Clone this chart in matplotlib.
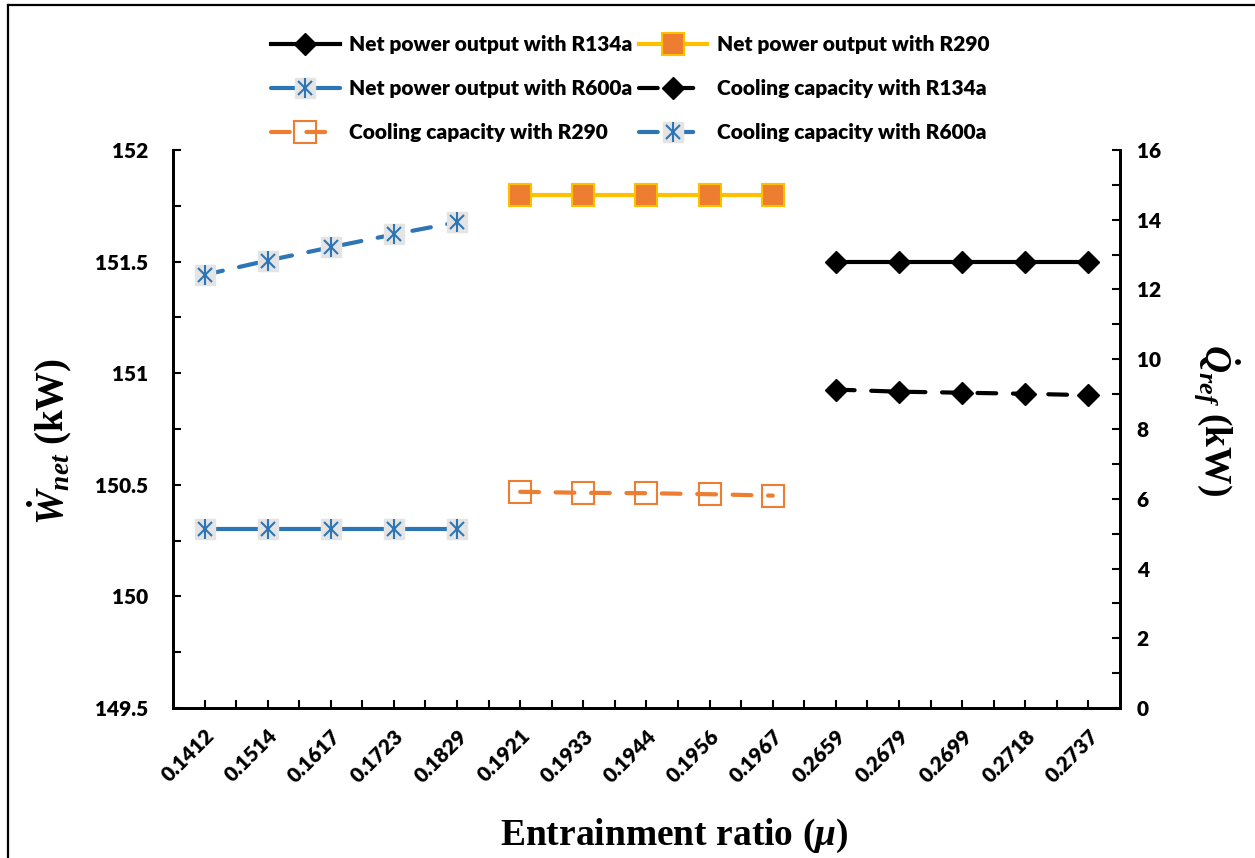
import numpy as np
import matplotlib
matplotlib.use("Agg")
import matplotlib.pyplot as plt
from matplotlib.lines import Line2D
from matplotlib.ticker import MultipleLocator
from matplotlib.legend_handler import HandlerTuple

# x categories (entrainment ratio)
mu = ["0.1412", "0.1514", "0.1617", "0.1723", "0.1829",
      "0.1921", "0.1933", "0.1944", "0.1956", "0.1967",
      "0.2659", "0.2679", "0.2699", "0.2718", "0.2737"]

# net power output (kW), left axis
w_r600a = [150.3, 150.3, 150.3, 150.3, 150.3]
w_r290 = [151.8, 151.8, 151.8, 151.8, 151.8]
w_r134a = [151.5, 151.5, 151.5, 151.5, 151.5]

# cooling capacity (kW), right axis
q_r600a = [12.42, 12.83, 13.21, 13.58, 13.93]
q_r290 = [6.20, 6.17, 6.16, 6.13, 6.09]
q_r134a = [9.13, 9.07, 9.04, 9.01, 8.97]

w_ticks = ["149.5", "150", "150.5", "151", "151.5", "152"]
q_ticks = ["0", "2", "4", "6", "8", "10", "12", "14", "16"]

blue = "#2E75B6"
orange = "#ED7D31"
yellow = "#FFC000"
grey = "#E4E4E4"

plt.rcParams["mathtext.fontset"] = "custom"
plt.rcParams["mathtext.it"] = "Liberation Serif:bold:italic"
plt.rcParams["mathtext.rm"] = "Liberation Serif:bold"
plt.rcParams["mathtext.bf"] = "Liberation Serif:bold"

tickfont = {"family": "Lato", "weight": "heavy", "size": 15}

fig = plt.figure(figsize=(12.55, 8.58), dpi=100)
ax = fig.add_axes([0.1378, 0.1748, 0.7546, 0.6504])
ax2 = ax.twinx()

x = np.arange(len(mu))
i600 = x[0:5]
i290 = x[5:10]
i134 = x[10:15]

dash = (0, (4.5, 4.0))
lw = 3.0

# R600a net power
l1, = ax.plot(i600, w_r600a, color=blue, lw=lw, solid_capstyle="round", zorder=2)
s1, = ax.plot(i600, w_r600a, ls="none", marker="s", ms=14, mfc=grey, mec=grey, zorder=3)
a1, = ax.plot(i600, w_r600a, ls="none", marker="x", ms=10.5, mec=blue, mew=1.5, zorder=4)
b1, = ax.plot(i600, w_r600a, ls="none", marker="|", ms=14.5, mec=blue, mew=1.5, zorder=4)

# R290 net power
l2, = ax.plot(i290, w_r290, color=yellow, lw=lw, marker="s", ms=15.5, mfc=orange,
              mec=yellow, mew=1.5, zorder=3)

# R134a net power
l3, = ax.plot(i134, w_r134a, color="black", lw=lw, marker="D", ms=11.5, mfc="black",
              mec="black", zorder=3)

# cooling capacities on right axis
c1, = ax2.plot(i600, q_r600a, color=blue, lw=lw, ls=dash, dash_capstyle="round", zorder=2)
cs1, = ax2.plot(i600, q_r600a, ls="none", marker="s", ms=14, mfc=grey, mec=grey, zorder=3)
ca1, = ax2.plot(i600, q_r600a, ls="none", marker="x", ms=10.5, mec=blue, mew=1.5, zorder=4)
cb1, = ax2.plot(i600, q_r600a, ls="none", marker="|", ms=14.5, mec=blue, mew=1.5, zorder=4)

c2, = ax2.plot(i290, q_r290, color=orange, lw=lw, ls=dash, dash_capstyle="round",
               marker="s", ms=16, mfc="none", mec=orange, mew=1.5, zorder=3)

c3, = ax2.plot(i134, q_r134a, color="black", lw=lw, ls=dash, dash_capstyle="round",
               marker="D", ms=11.5, mfc="black", mec="black", zorder=3)

# axes
ax.set_xlim(-0.5, len(mu) - 0.5)
ax.set_ylim(149.5, 152)
ax2.set_ylim(0, 16)
ax.set_yticks([float(t) for t in w_ticks])
ax.set_yticklabels(w_ticks, **tickfont)
ax.yaxis.set_minor_locator(MultipleLocator(0.25))
ax2.set_yticks([float(t) for t in q_ticks])
ax2.set_yticklabels(q_ticks, **tickfont)
ax2.yaxis.set_minor_locator(MultipleLocator(1))
ax.set_xticks(x)
ax.set_xticks(x[:-1] + 0.5, minor=True)
ax.set_xticklabels(mu, rotation=45, ha="right", rotation_mode="anchor", **tickfont)

for a in (ax, ax2):
    a.tick_params(which="both", direction="in", length=6, width=1.5, color="black")
    for sp in a.spines.values():
        sp.set_linewidth(2)
    a.spines["top"].set_visible(False)
ax.tick_params(axis="y", which="both", pad=18)
ax2.tick_params(axis="y", which="both", pad=12)
ax.tick_params(axis="x", which="both", pad=13)

ax.set_xlabel(r"Entrainment ratio ($\mu$)", family="Liberation Serif", weight="bold",
              fontsize=27, labelpad=22)
ax.xaxis.label.set_x(0.529)
ax.set_ylabel(r"$\dot{W}_{net}$ (kW)", family="Liberation Serif", weight="bold",
              fontsize=28, labelpad=14)
ax.yaxis.label.set_y(0.477)
ax2.set_ylabel(r"$\dot{Q}_{ref}$ (kW)", family="Liberation Serif", weight="bold",
               fontsize=27, rotation=270, labelpad=58)
ax2.yaxis.label.set_y(0.516)

# legend (column-wise fill)
handles = [l3, (l1, s1, a1, b1), (c2,), l2, c3, (c1, cs1, ca1, cb1)]
labels = ["Net power output with R134a", "Net power output with R600a",
          "Cooling capacity with R290", "Net power output with R290",
          "Cooling capacity with R134a", "Cooling capacity with R600a"]
leg = fig.legend(handles, labels, ncol=2, loc="center", bbox_to_anchor=(0.502, 0.897),
                 frameon=False, handlelength=3.3, handletextpad=0.45, columnspacing=0.3,
                 labelspacing=1.2, prop={"family": "Lato", "weight": "heavy", "size": 15},
                 handler_map={tuple: HandlerTuple(ndivide=1, pad=0)})

# figure border (left and top visible)
fig.add_artist(Line2D([8 / 1255, 8 / 1255], [0, 1 - 5 / 858], transform=fig.transFigure,
                      color="black", lw=1.6))
fig.add_artist(Line2D([8 / 1255, 1], [1 - 5 / 858, 1 - 5 / 858], transform=fig.transFigure,
                      color="black", lw=1.6))

fig.savefig("out.png", dpi=100)
